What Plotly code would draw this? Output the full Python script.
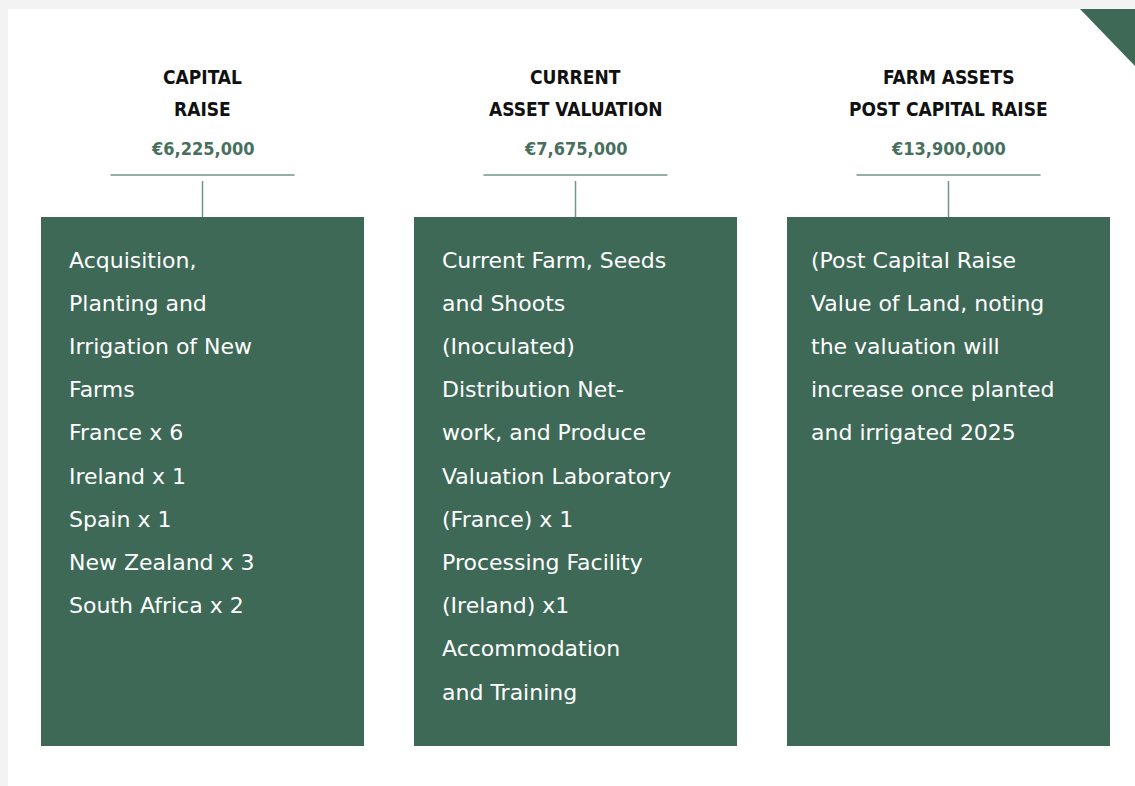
import plotly.graph_objects as go

# ---- data ----
title_line1 = ["CAPITAL", "CURRENT", "FARM ASSETS"]
title_line2 = ["RAISE", "ASSET VALUATION", "POST CAPITAL RAISE"]
values_eur = [6225000, 7675000, 13900000]
descriptions = [
    ["Acquisition,", "Planting and", "Irrigation of New", "Farms", "France x 6",
     "Ireland x 1", "Spain x 1", "New Zealand x 3", "South Africa x 2"],
    ["Current Farm, Seeds", "and Shoots", "(Inoculated)", "Distribution Net-",
     "work, and Produce", "Valuation Laboratory", "(France) x 1",
     "Processing Facility", "(Ireland) x1", "Accommodation", "and Training"],
    ["(Post Capital Raise", "Value of Land, noting", "the valuation will",
     "increase once planted", "and irrigated 2025"],
]

# ---- style / layout ----
W, H = 1135, 786
GREEN = "#3d6956"
LINE = "#6f968a"
BG = "#f3f3f3"
box_left = [41, 414, 787]
box_w = 323
box_top, box_bot = 217, 746
text_pad = [26, 26, 22]
line0, line_step = 260, 43.2
TITLE_FONT = "DejaVu Sans Condensed, Liberation Sans Narrow, Roboto, sans-serif"
BODY_FONT = "DejaVu Sans, sans-serif"

fig = go.Figure()
shapes = []
ann = []

# card background
shapes.append(dict(type="rect", xref="x", yref="y", x0=8, x1=W + 5, y0=9, y1=H + 5,
                   fillcolor="white", line_width=0, layer="below"))
# corner triangle
shapes.append(dict(type="path", xref="x", yref="y",
                   path=f"M 1080 9 L {W + 1} 9 L {W + 1} 67 Z",
                   fillcolor=GREEN, line_width=0))

for i in range(3):
    x0 = box_left[i]
    cx = x0 + box_w / 2
    shapes.append(dict(type="rect", xref="x", yref="y", x0=x0, x1=x0 + box_w,
                       y0=box_top, y1=box_bot, fillcolor=GREEN, line_width=0))
    shapes.append(dict(type="line", xref="x", yref="y", x0=cx - 92, x1=cx + 92,
                       y0=175, y1=175, line=dict(color=LINE, width=1.5)))
    shapes.append(dict(type="line", xref="x", yref="y", x0=cx, x1=cx,
                       y0=181, y1=box_top, line=dict(color=LINE, width=1.5)))
    for txt, y in [(title_line1[i], 77), (title_line2[i], 109)]:
        ann.append(dict(x=cx, y=y, xref="x", yref="y", text=f"<b>{txt}</b>",
                        showarrow=False, xanchor="center", yanchor="middle",
                        font=dict(family=TITLE_FONT, size=19, color="#111111")))
    ann.append(dict(x=cx, y=148, xref="x", yref="y",
                    text=f"<b>€{values_eur[i]:,}</b>",
                    showarrow=False, xanchor="center", yanchor="middle",
                    font=dict(family=TITLE_FONT, size=18, color="#46705d")))
    for j, line in enumerate(descriptions[i]):
        ann.append(dict(x=x0 + text_pad[i], y=line0 + j * line_step, xref="x", yref="y",
                        text=line, showarrow=False, xanchor="left", yanchor="middle",
                        font=dict(family=BODY_FONT, size=22, color="white")))

fig.update_layout(
    width=W, height=H, margin=dict(l=0, r=0, t=0, b=0),
    paper_bgcolor=BG, plot_bgcolor="rgba(0,0,0,0)",
    xaxis=dict(range=[0, W], visible=False, fixedrange=True),
    yaxis=dict(range=[H, 0], visible=False, fixedrange=True),
    shapes=shapes, annotations=ann, showlegend=False,
)
fig.write_html(
    "out.html", config={"displayModeBar": False},
    post_script="document.body.style.margin='0';document.body.style.overflow='hidden';"
                "document.body.style.background='%s';" % BG)
